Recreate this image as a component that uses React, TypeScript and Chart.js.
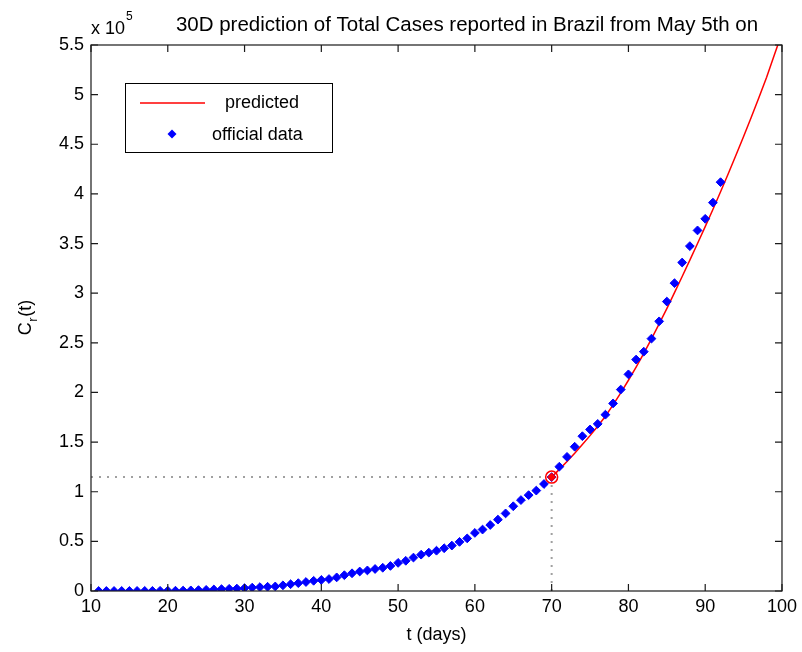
import React, { useEffect, useRef } from "react";
import { Chart, registerables } from "chart.js";

Chart.register(...registerables);

const TITLE = "30D prediction of Total Cases reported in Brazil from May 5th on";
const X_TITLE = "t (days)";
const Y_EXPONENT_BASE = "x 10";
const Y_EXPONENT = "5";
const Y_SCALE_FACTOR = 100000;
const X_TICKS = [10, 20, 30, 40, 50, 60, 70, 80, 90, 100];
const Y_TICKS = [0, 50000, 100000, 150000, 200000, 250000, 300000, 350000, 400000, 450000, 500000, 550000];
const LEGEND_LABELS = ["predicted", "official data"];

// official cumulative cases, one per day starting at day 11
const OFFICIAL_FIRST_DAY = 11;
const OFFICIAL_CASES = [
  19, 25, 25, 34, 52, 77, 98, 121, 200, 234, 291, 428, 621, 904, 1128, 1546, 1891, 2201, 2433, 2915, 3417, 3904,
  4256, 4579, 5717, 6836, 7910, 9056, 10278, 11130, 12056, 13717, 15927, 17857, 19638, 20727, 22169, 23430, 25262,
  28320, 30425, 33682, 36599, 38654, 40581, 43079, 45757, 49492, 52995, 58509, 61888, 66501, 71886, 78162, 85380,
  91589, 96559, 101147, 107780, 114715, 125218, 135106, 145328, 155939, 162699, 168331, 177589, 188974, 202918,
  218223, 233142, 241080, 254220, 271628, 291579, 310087, 330890, 347398, 363211, 374898, 391222, 411821,
];

// predicted curve, one per day starting at day 70
const PREDICTED_FIRST_DAY = 70;
const PREDICTED_CASES = [
  114715, 122500, 130500, 138800, 147500, 156500, 166000, 176000, 187500, 199500, 212300, 225600, 239400, 253900,
  269000, 284500, 300500, 316800, 333300, 350100, 367100, 384300, 402100, 420300, 438900, 457900, 477300, 497100,
  517500, 540000, 562000,
];

const MARK_DAY = 70;
const MARK_CASES = 114715;
const X_MIN = 10;
const Y_MIN = 0;

const frameAndText = {
  id: "frameAndText",
  afterDatasetsDraw(chart: any) {
    const { ctx, chartArea: a, scales } = chart;
    const xs = scales.x;
    const ys = scales.y;
    ctx.save();
    // box
    ctx.strokeStyle = "#1a1a1a";
    ctx.lineWidth = 1.2;
    ctx.strokeRect(a.left, a.top, a.right - a.left, a.bottom - a.top);
    // inward ticks
    const tl = 7;
    ctx.beginPath();
    X_TICKS.forEach((v) => {
      const px = xs.getPixelForValue(v);
      ctx.moveTo(px, a.bottom);
      ctx.lineTo(px, a.bottom - tl);
      ctx.moveTo(px, a.top);
      ctx.lineTo(px, a.top + tl);
    });
    Y_TICKS.forEach((v) => {
      const py = ys.getPixelForValue(v);
      ctx.moveTo(a.left, py);
      ctx.lineTo(a.left + tl, py);
      ctx.moveTo(a.right, py);
      ctx.lineTo(a.right - tl, py);
    });
    ctx.stroke();

    ctx.fillStyle = "#000";
    // title
    ctx.font = "20.5px 'Liberation Sans', Arial, sans-serif";
    ctx.textAlign = "center";
    ctx.textBaseline = "alphabetic";
    ctx.fillText(TITLE, 467, 31);

    // exponent label
    ctx.textAlign = "left";
    ctx.font = "18px 'Liberation Sans', Arial, sans-serif";
    ctx.fillText(Y_EXPONENT_BASE, a.left, 34);
    const w = ctx.measureText(Y_EXPONENT_BASE).width;
    ctx.font = "12px 'Liberation Sans', Arial, sans-serif";
    ctx.fillText(Y_EXPONENT, a.left + w + 1, 20);

    // x title
    ctx.font = "18px 'Liberation Sans', Arial, sans-serif";
    ctx.textAlign = "center";
    ctx.textBaseline = "middle";
    ctx.fillText(X_TITLE, (a.left + a.right) / 2, 635);

    // y title C_r(t)
    ctx.save();
    ctx.translate(25, (a.top + a.bottom) / 2);
    ctx.rotate(-Math.PI / 2);
    ctx.textAlign = "left";
    ctx.textBaseline = "alphabetic";
    const big = "18px 'Liberation Sans', Arial, sans-serif";
    const small = "13px 'Liberation Sans', Arial, sans-serif";
    ctx.font = big;
    const wC = ctx.measureText("C").width;
    const wT = ctx.measureText("(t)").width;
    ctx.font = small;
    const wr = ctx.measureText("r").width;
    let x0 = -(wC + wr + wT) / 2;
    ctx.font = big;
    ctx.fillText("C", x0, 6);
    ctx.font = small;
    ctx.fillText("r", x0 + wC + 0.5, 12);
    ctx.font = big;
    ctx.fillText("(t)", x0 + wC + wr + 1, 6);
    ctx.restore();

    // legend
    const lx = 125.5, ly = 83.5, lw = 207, lh = 69;
    ctx.fillStyle = "#fff";
    ctx.fillRect(lx, ly, lw, lh);
    ctx.strokeStyle = "#000";
    ctx.lineWidth = 1;
    ctx.strokeRect(lx, ly, lw, lh);
    ctx.strokeStyle = "#ff0000";
    ctx.lineWidth = 1.5;
    ctx.beginPath();
    ctx.moveTo(140, 103);
    ctx.lineTo(205, 103);
    ctx.stroke();
    ctx.fillStyle = "#0000ff";
    ctx.beginPath();
    ctx.moveTo(172, 129.5);
    ctx.lineTo(176.5, 134);
    ctx.lineTo(172, 138.5);
    ctx.lineTo(167.5, 134);
    ctx.closePath();
    ctx.fill();
    ctx.fillStyle = "#000";
    ctx.font = "18px 'Liberation Sans', Arial, sans-serif";
    ctx.textAlign = "left";
    ctx.textBaseline = "middle";
    ctx.fillText(LEGEND_LABELS[0], 225, 103);
    ctx.fillText(LEGEND_LABELS[1], 212, 135);
    ctx.restore();
  },
};

export default function App() {
  const ref = useRef<HTMLCanvasElement | null>(null);
  useEffect(() => {
    if (!ref.current) return;
    const official = OFFICIAL_CASES.map((y, i) => ({ x: OFFICIAL_FIRST_DAY + i, y }));
    const predicted = PREDICTED_CASES.map((y, i) => ({ x: PREDICTED_FIRST_DAY + i, y }));
    const chart = new Chart(ref.current, {
      type: "line",
      data: {
        datasets: [
          {
            label: "hguide",
            data: [
              { x: X_MIN, y: MARK_CASES },
              { x: MARK_DAY, y: MARK_CASES },
            ],
            borderColor: "#a0a0a0",
            borderWidth: 2,
            borderDash: [2, 6],
            pointRadius: 0,
            order: 6,
          },
          {
            label: "vguide",
            data: [
              { x: MARK_DAY, y: Y_MIN },
              { x: MARK_DAY, y: MARK_CASES },
            ],
            borderColor: "#a0a0a0",
            borderWidth: 2,
            borderDash: [2, 6],
            pointRadius: 0,
            order: 5,
          },
          {
            label: LEGEND_LABELS[0],
            data: predicted,
            borderColor: "#ff0000",
            borderWidth: 1.5,
            pointRadius: 0,
            tension: 0,
            order: 3,
          },
          {
            label: LEGEND_LABELS[1],
            data: official,
            showLine: false,
            pointStyle: "rectRot",
            pointRadius: 4.4,
            pointBackgroundColor: "#0000ff",
            pointBorderColor: "#0000ff",
            pointBorderWidth: 1,
            order: 2,
          },
          {
            label: "mark",
            data: [{ x: MARK_DAY, y: MARK_CASES }],
            showLine: false,
            pointStyle: "circle",
            pointRadius: 6,
            pointBackgroundColor: "rgba(0,0,0,0)",
            pointBorderColor: "#ff0000",
            pointBorderWidth: 1.5,
            order: 1,
          },
          {
            label: "markc",
            data: [{ x: MARK_DAY, y: MARK_CASES }],
            showLine: false,
            pointStyle: "rectRot",
            pointRadius: 4,
            pointBackgroundColor: "#ff0000",
            pointBorderColor: "#ff0000",
            pointBorderWidth: 1,
            order: 0,
          },
        ],
      },
      options: {
        responsive: false,
        devicePixelRatio: 1,
        animation: false,
        layout: { padding: { left: 0, top: 45, right: 16, bottom: 0 } },
        plugins: { legend: { display: false }, tooltip: { enabled: false }, title: { display: false } },
        scales: {
          x: {
            type: "linear",
            min: 10,
            max: 100,
            afterBuildTicks: (s: any) => {
              s.ticks = X_TICKS.map((v) => ({ value: v }));
            },
            ticks: {
              autoSkip: false,
              maxRotation: 0,
              padding: 5,
              color: "#000",
              font: { family: "'Liberation Sans', Arial, sans-serif", size: 18 },
            },
            grid: { display: false, drawTicks: false, tickLength: 0 },
            border: { display: false },
            afterFit: (s: any) => {
              s.height = 61;
            },
          },
          y: {
            type: "linear",
            min: 0,
            max: 550000,
            afterBuildTicks: (s: any) => {
              s.ticks = Y_TICKS.map((v) => ({ value: v }));
            },
            ticks: {
              autoSkip: false,
              padding: 7,
              color: "#000",
              font: { family: "'Liberation Sans', Arial, sans-serif", size: 18 },
              callback: (v: any) => String(Number(v) / Y_SCALE_FACTOR),
            },
            grid: { display: false, drawTicks: false, tickLength: 0 },
            border: { display: false },
            afterFit: (s: any) => {
              s.width = 91;
            },
          },
        },
      },
      plugins: [frameAndText],
    });
    return () => chart.destroy();
  }, []);
  return (
    <div style={{ position: "fixed", left: 0, top: 0, width: 802, height: 652, background: "#fff" }}>
      <canvas ref={ref} width={802} height={652} style={{ display: "block" }} />
    </div>
  );
}
